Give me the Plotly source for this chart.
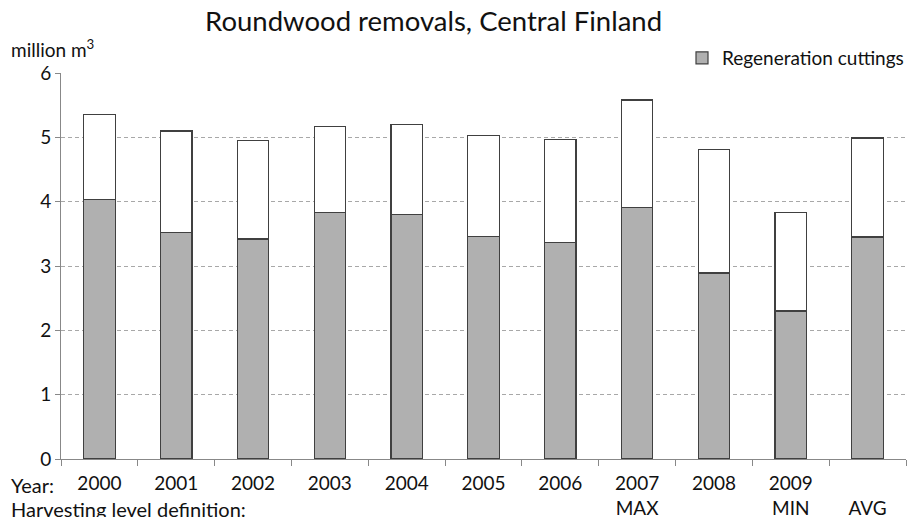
import plotly.graph_objects as go

# Roundwood removals in Central Finland, million m3
categories = ["2000", "2001", "2002", "2003", "2004", "2005", "2006",
              "2007", "2008", "2009", "AVG"]
tick_labels = ["2000", "2001", "2002", "2003", "2004", "2005", "2006",
               "2007<br>MAX", "2008", "2009<br>MIN", "<br>AVG"]
regeneration = [4.03, 3.52, 3.42, 3.83, 3.80, 3.46, 3.37, 3.91, 2.89, 2.30, 3.45]
other_cuttings = [1.33, 1.58, 1.53, 1.34, 1.40, 1.57, 1.60, 1.67, 1.92, 1.53, 1.54]

FONT = "Lato, Calibri, Carlito, Arial, sans-serif"
OUTLINE = "#404040"

fig = go.Figure()
fig.add_trace(go.Bar(
    x=categories, y=regeneration, name="Regeneration cuttings",
    marker=dict(color="#b0b0b0", line=dict(color=OUTLINE, width=1.2)),
))
fig.add_trace(go.Bar(
    x=categories, y=other_cuttings, name="Other cuttings", showlegend=False,
    marker=dict(color="#ffffff", line=dict(color=OUTLINE, width=1.2)),
))

fig.update_layout(
    width=909, height=517,
    barmode="stack", bargap=0.59,
    plot_bgcolor="white", paper_bgcolor="white",
    margin=dict(l=61, r=3, t=73, b=58, autoexpand=False),
    font=dict(family=FONT, size=19, color="#111111"),
    title=dict(text="Roundwood removals, Central Finland", x=0.477, xanchor="center",
               y=0.958, yanchor="middle", font=dict(size=27.5, family=FONT, color="#111111")),
    showlegend=True,
    legend=dict(xref="container", yref="container",
                x=1.007, xanchor="right", y=1 - 58 / 517, yanchor="middle",
                bgcolor="rgba(0,0,0,0)", font=dict(size=19),
                itemwidth=30, tracegroupgap=0),
    xaxis=dict(
        type="category", tickmode="array", tickvals=categories, ticktext=tick_labels,
        tickson="boundaries", ticks="outside", ticklen=6, tickcolor="#888888",
        ticklabelstandoff=7, automargin=False,
        showline=True, linecolor="#888888", linewidth=1,
        showgrid=False, tickfont=dict(size=19),
    ),
    yaxis=dict(
        range=[0, 6], dtick=1, ticks="outside", ticklen=5, tickcolor="#888888",
        automargin=False,
        showline=True, linecolor="#888888", linewidth=1,
        showgrid=True, gridcolor="#a8a8a8", griddash="4px,3px", gridwidth=1,
        zeroline=False, tickfont=dict(size=19),
    ),
)

fig.add_annotation(text="million m<sup>3</sup>", xref="paper", yref="paper",
                   x=-0.061, y=1.0, xanchor="left", yanchor="bottom", yshift=10,
                   showarrow=False, font=dict(size=19))
fig.add_annotation(text="Year:", xref="paper", yref="paper",
                   x=-0.061, y=0, xanchor="left", yanchor="top", yshift=-12,
                   showarrow=False, font=dict(size=20))
fig.add_annotation(text="Harvesting level definition:", xref="paper", yref="paper",
                   x=-0.061, y=0, xanchor="left", yanchor="top", yshift=-36,
                   showarrow=False, font=dict(size=20))

fig.write_html("out.html")
